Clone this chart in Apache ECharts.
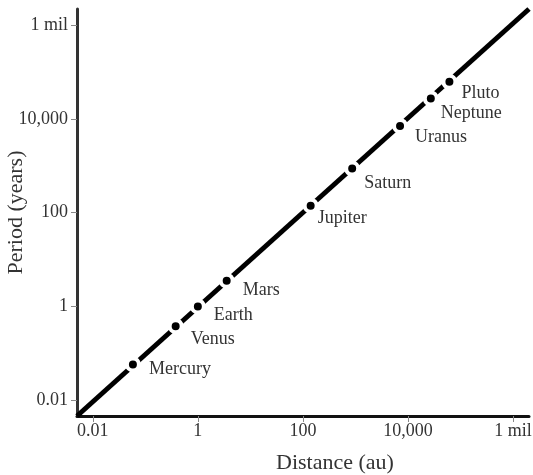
<!DOCTYPE html>
<html>
<head>
<meta charset="utf-8">
<script src="https://cdn.jsdelivr.net/npm/echarts@6/dist/echarts.min.js"></script>
<style>
  html, body { margin: 0; padding: 0; background: #fff; }
  #chart { width: 533px; height: 475px; }
</style>
</head>
<body>
<div id="chart"></div>
<script>
// Planets placed along the P^2 = a^3 diagonal (log–log)
const planets = ['Mercury', 'Venus', 'Earth', 'Mars', 'Jupiter', 'Saturn', 'Uranus', 'Neptune', 'Pluto'];
const distanceVals = [0.058, 0.378, 1, 3.54, 140.6, 868, 7078, 27270, 61630];
const periodVals = [0.058, 0.379, 1, 3.54, 140.7, 868, 7058, 27156, 61500];

// Axis extents and the guide line running corner to corner
const xRange = [0.005, 2.02e6];
const yRange = [0.0046, 2.2e6];
const lineX = [0.005, 2.02e6];
const lineY = [0.0046, 2.2e6];

// Tick positions and their labels
const tickVals = [0.01, 1, 100, 10000, 1000000];
const tickLabels = ['0.01', '1', '100', '10,000', '1 mil'];

// Per-label nudges (px) so names sit just below-right of each dot
const labelNudge = [[8, 5], [7, 13], [8, 9], [8, 10], [-1, 13], [4, 15], [7, 11], [2, 15], [4, 11]];

const FONT = '"Liberation Serif", "Times New Roman", serif';

function fmtTick(v) {
  for (let i = 0; i < tickVals.length; i++) {
    if (Math.abs(Math.log10(v) - Math.log10(tickVals[i])) < 1e-6) return tickLabels[i];
  }
  return '';
}

const chart = echarts.init(document.getElementById('chart'), null, { renderer: 'canvas' });

chart.setOption({
  animation: false,
  backgroundColor: '#ffffff',
  grid: { left: 77, right: 4, top: 9, bottom: 59, containLabel: false, outerBoundsMode: 'none' },
  xAxis: {
    type: 'log',
    logBase: 10,
    min: xRange[0],
    max: xRange[1],
    name: 'Distance (au)',
    nameLocation: 'middle',
    nameGap: 36,
    nameMoveOverlap: false,
    nameTextStyle: { fontFamily: FONT, fontSize: 22, color: '#333', padding: [0, 0, 0, 64] },
    axisLine: { show: true, lineStyle: { color: '#111', width: 3 } },
    axisTick: { show: true, customValues: tickVals, length: 6, lineStyle: { color: '#888', width: 1 } },
    axisLabel: { customValues: tickVals, formatter: fmtTick, fontFamily: FONT, fontSize: 18, color: '#333', margin: 6 },
    splitLine: { show: false }
  },
  yAxis: {
    type: 'log',
    logBase: 10,
    min: yRange[0],
    max: yRange[1],
    name: 'Period (years)',
    nameLocation: 'middle',
    nameGap: 50,
    nameMoveOverlap: false,
    nameTextStyle: { fontFamily: FONT, fontSize: 22, color: '#333' },
    axisLine: { show: true, lineStyle: { color: '#333', width: 3 } },
    axisTick: { show: true, customValues: tickVals, length: 6, lineStyle: { color: '#888', width: 1 } },
    axisLabel: { customValues: tickVals, formatter: fmtTick, fontFamily: FONT, fontSize: 18, color: '#333', margin: 9 },
    splitLine: { show: false }
  },
  series: [
    {
      type: 'line',
      data: lineX.map((x, i) => [x, lineY[i]]),
      showSymbol: false,
      symbol: 'none',
      lineStyle: { color: '#000', width: 5 },
      z: 2,
      silent: true
    },
    {
      type: 'scatter',
      data: planets.map((name, i) => ({
        name: name,
        value: [distanceVals[i], periodVals[i]],
        label: { offset: labelNudge[i] }
      })),
      symbol: 'circle',
      symbolSize: 12,
      itemStyle: { color: '#000', borderColor: '#fff', borderWidth: 4, opacity: 1 },
      label: {
        show: true,
        position: 'right',
        distance: 0,
        formatter: p => p.name,
        fontFamily: FONT,
        fontSize: 18,
        color: '#333'
      },
      z: 3
    }
  ]
});
</script>
</body>
</html>
